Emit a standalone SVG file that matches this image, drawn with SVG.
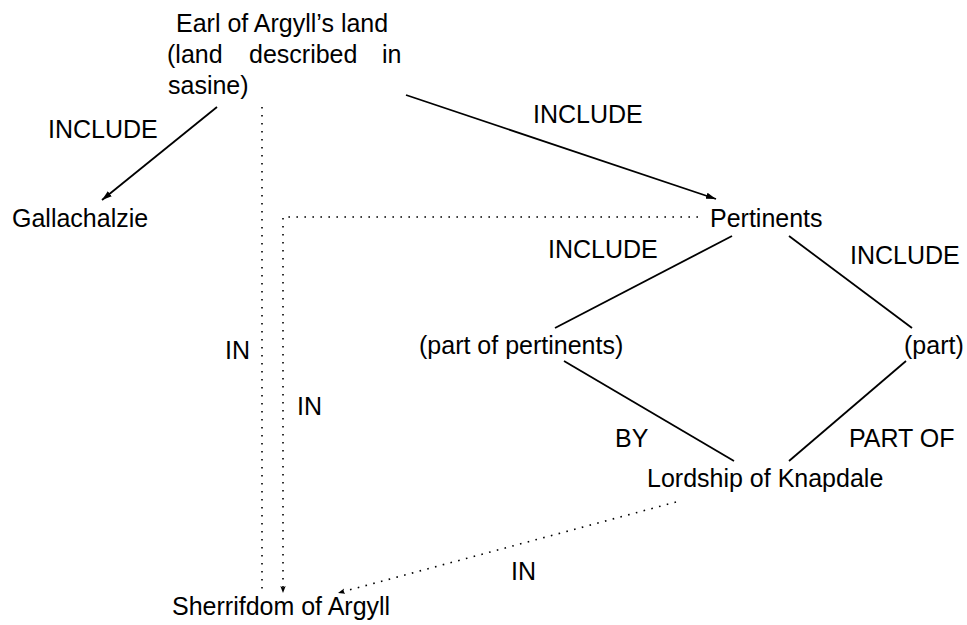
<svg xmlns="http://www.w3.org/2000/svg" width="967" height="625" viewBox="0 0 967 625">
<style>
  text { font-family: "Liberation Sans", Arial, sans-serif; font-size: 25px; fill: #000; }
  .solid { stroke: #000; stroke-width: 1.8; fill: none; }
  .dot { stroke: #000; stroke-width: 1.6; fill: none; stroke-dasharray: 1.6 6.4; }
</style>
<defs>
  <marker id="arr" markerUnits="userSpaceOnUse" markerWidth="11" markerHeight="8" refX="10" refY="4" orient="auto">
    <path d="M0,0.8 L10,4 L0,7.2 Z" fill="#000"/>
  </marker>
  <marker id="arrs" markerUnits="userSpaceOnUse" markerWidth="8" markerHeight="7" refX="7" refY="3.5" orient="auto">
    <path d="M0,0.8 L7,3.5 L0,6.2 L1.5,3.5 Z" fill="#000"/>
  </marker>
</defs>
<rect width="967" height="625" fill="#fff"/>
<g id="connectors">
  <line class="solid" x1="217" y1="107" x2="102" y2="200" marker-end="url(#arr)"/>
  <line class="solid" x1="406" y1="95" x2="716" y2="199" marker-end="url(#arr)"/>
  <line class="solid" x1="732" y1="236" x2="555" y2="328"/>
  <line class="solid" x1="789" y1="236" x2="912" y2="328"/>
  <line class="solid" x1="564" y1="361" x2="734" y2="461"/>
  <line class="solid" x1="906" y1="361" x2="789" y2="461"/>
  <line class="dot" x1="262" y1="107" x2="262" y2="595"/>
  <path class="dot" d="M698,217 H283 V593" marker-end="url(#arrs)"/>
  <line class="dot" x1="676" y1="502" x2="338" y2="593" marker-end="url(#arrs)"/>
  <text x="48" y="138">INCLUDE</text>
  <text x="533" y="123">INCLUDE</text>
  <text x="548" y="258">INCLUDE</text>
  <text x="850" y="264">INCLUDE</text>
  <text x="615" y="447">BY</text>
  <text x="849" y="447">PART OF</text>
  <text x="225" y="359">IN</text>
  <text x="297" y="415">IN</text>
  <text x="511" y="580">IN</text>
</g>
<g id="earl">
  <text x="176" y="32">Earl of Argyll’s land</text>
  <text x="167" y="63">(land</text>
  <text x="249" y="63">described</text>
  <text x="382" y="63">in</text>
  <text x="168" y="94">sasine)</text>
</g>
<g id="gallachalzie"><text x="12" y="227">Gallachalzie</text></g>
<g id="pertinents"><text x="710" y="227">Pertinents</text></g>
<g id="part-of-pertinents"><text x="419" y="354">(part of pertinents)</text></g>
<g id="part"><text x="904" y="354">(part)</text></g>
<g id="lordship"><text x="647" y="487">Lordship of Knapdale</text></g>
<g id="sherrifdom"><text x="172" y="615">Sherrifdom of Argyll</text></g>
</svg>
